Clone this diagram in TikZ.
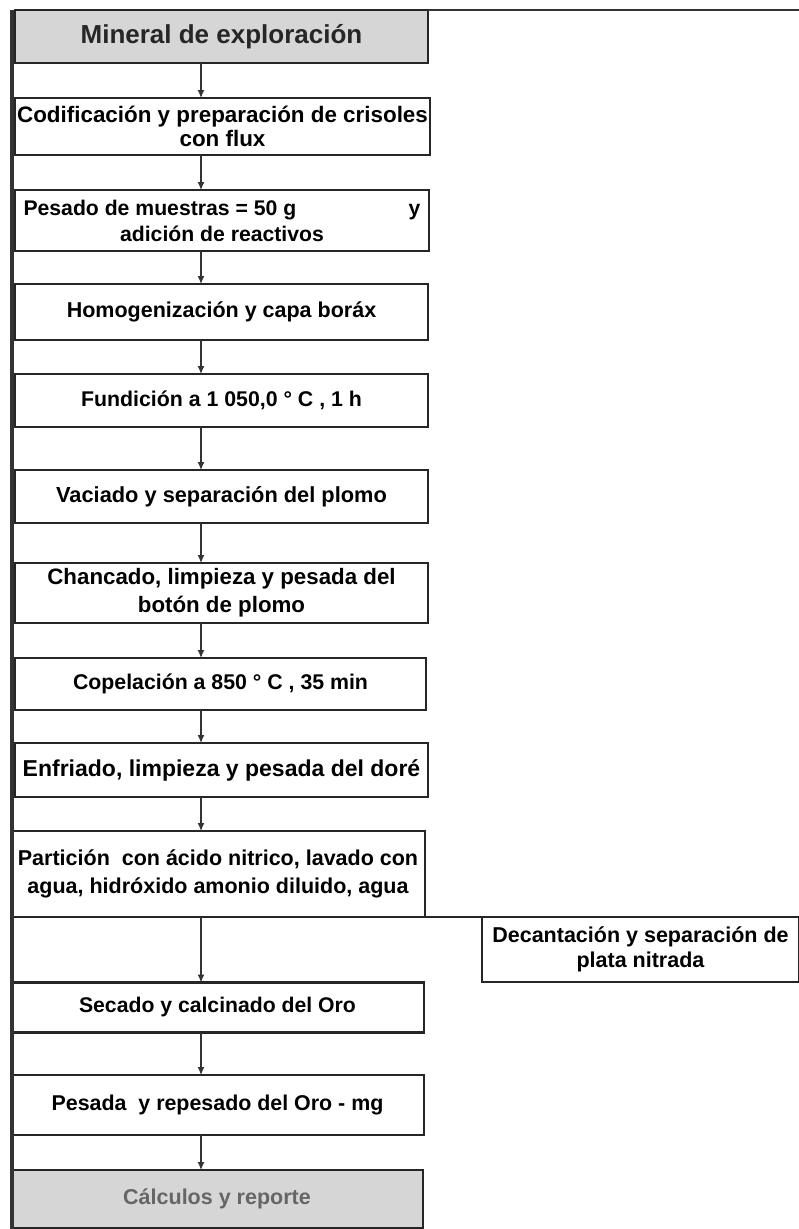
\documentclass[tikz,border=0pt]{standalone}
\usepackage{fontspec}
\setmainfont{Liberation Sans}
\usetikzlibrary{arrows.meta}
\begin{document}
\begin{tikzpicture}[x=1pt,y=-1pt,
  box/.style={draw=black!85, line width=2.2pt, inner sep=0pt, outer sep=0pt, align=center,
    font=\bfseries\fontsize{21.5}{27}\selectfont},
  graybox/.style={box, fill=black!16},
  arr/.style={draw=black!80, line width=1.2pt, -{Latex[length=8pt,width=7pt]}},
  frame/.style={draw=black!80, line width=3.2pt}]
\useasboundingbox (0,0) rectangle (799,1229);
\fill[white] (0,0) rectangle (799,1229);

\coordinate (ax) at (201,0);
\coordinate (tr) at (799,10);
\coordinate (lt) at (12,10);
\coordinate (lb) at (12,1229);

\node[graybox, minimum width=413pt, minimum height=53pt,
  font=\bfseries\fontsize{26}{28}\selectfont, text=black!85] (n1) at (221.5,36.5)
  {Mineral de exploración};
\node[box, minimum width=415pt, minimum height=57pt,
  font=\bfseries\fontsize{22.4}{23.5}\selectfont] (n2) at (222.5,126.5)
  {Codificación y preparación de crisoles\\con flux};
\node[box, minimum width=414pt, minimum height=61pt,
  font=\bfseries\fontsize{21.2}{26}\selectfont] (n3) at (222,220.5)
  {\makebox[397pt]{Pesado de muestras = 50 g\hfill y}\\adición de reactivos};
\node[box, minimum width=413pt, minimum height=56pt] (n4) at (221.5,312)
  {Homogenización y capa boráx};
\node[box, minimum width=413pt, minimum height=53pt,
  font=\bfseries\fontsize{21.3}{27}\selectfont] (n5) at (221.5,400.5)
  {Fundición a 1 050,0 ° C , 1 h};
\node[box, minimum width=413pt, minimum height=53pt,
  font=\bfseries\fontsize{21.8}{27}\selectfont] (n6) at (221.5,496.5)
  {Vaciado y separación del plomo};
\node[box, minimum width=413pt, minimum height=60pt,
  font=\bfseries\fontsize{22.3}{28}\selectfont] (n7) at (221.5,593)
  {Chancado, limpieza y pesada del\\botón de plomo};
\node[box, minimum width=411pt, minimum height=52pt,
  font=\bfseries\fontsize{21.3}{27}\selectfont] (n8) at (220.5,684)
  {Copelación a 850 ° C , 35 min};
\node[box, minimum width=413pt, minimum height=54pt,
  font=\bfseries\fontsize{23}{27}\selectfont] (n9) at (221.5,770)
  {Enfriado, limpieza y pesada del doré};
\node[box, minimum width=414pt, minimum height=86pt,
  font=\bfseries\fontsize{21.5}{28}\selectfont] (n10) at (218,874)
  {Partición\ \ con ácido nitrico, lavado con\\agua, hidróxido amonio diluido, agua};
\node[box, minimum width=317pt, minimum height=65pt,
  font=\bfseries\fontsize{21.5}{25}\selectfont] (n11) at (640.5,949.5)
  {Decantación y separación de\\plata nitrada};
\node[box, minimum width=413pt, minimum height=50pt,
  font=\bfseries\fontsize{21.2}{27}\selectfont] (n12) at (217.5,1007.5)
  {Secado y calcinado del Oro};
\node[box, minimum width=413pt, minimum height=60pt,
  font=\bfseries\fontsize{21.4}{27}\selectfont] (n13) at (217.5,1105)
  {Pesada\ \ y repesado del Oro - mg};
\node[graybox, minimum width=412pt, minimum height=58pt,
  font=\bfseries\fontsize{21.5}{24}\selectfont, text=black!60] (n14) at (217,1199)
  {Cálculos y reporte};

\draw[frame] (lt) -- (lb);
\draw[line width=2.2pt, draw=black!80] (n1.north east) -- (tr);
\draw[line width=2.2pt, draw=black!85] (n10.south east) -- (n11.north west);

\draw[arr] (n1.south -| ax) -- (n2.north -| ax);
\draw[arr] (n2.south -| ax) -- (n3.north -| ax);
\draw[arr] (n3.south -| ax) -- (n4.north -| ax);
\draw[arr] (n4.south -| ax) -- (n5.north -| ax);
\draw[arr] (n5.south -| ax) -- (n6.north -| ax);
\draw[arr] (n6.south -| ax) -- (n7.north -| ax);
\draw[arr] (n7.south -| ax) -- (n8.north -| ax);
\draw[arr] (n8.south -| ax) -- (n9.north -| ax);
\draw[arr] (n9.south -| ax) -- (n10.north -| ax);
\draw[arr] (n10.south -| ax) -- (n12.north -| ax);
\draw[arr] (n12.south -| ax) -- (n13.north -| ax);
\draw[arr] (n13.south -| ax) -- (n14.north -| ax);
\end{tikzpicture}
\end{document}
